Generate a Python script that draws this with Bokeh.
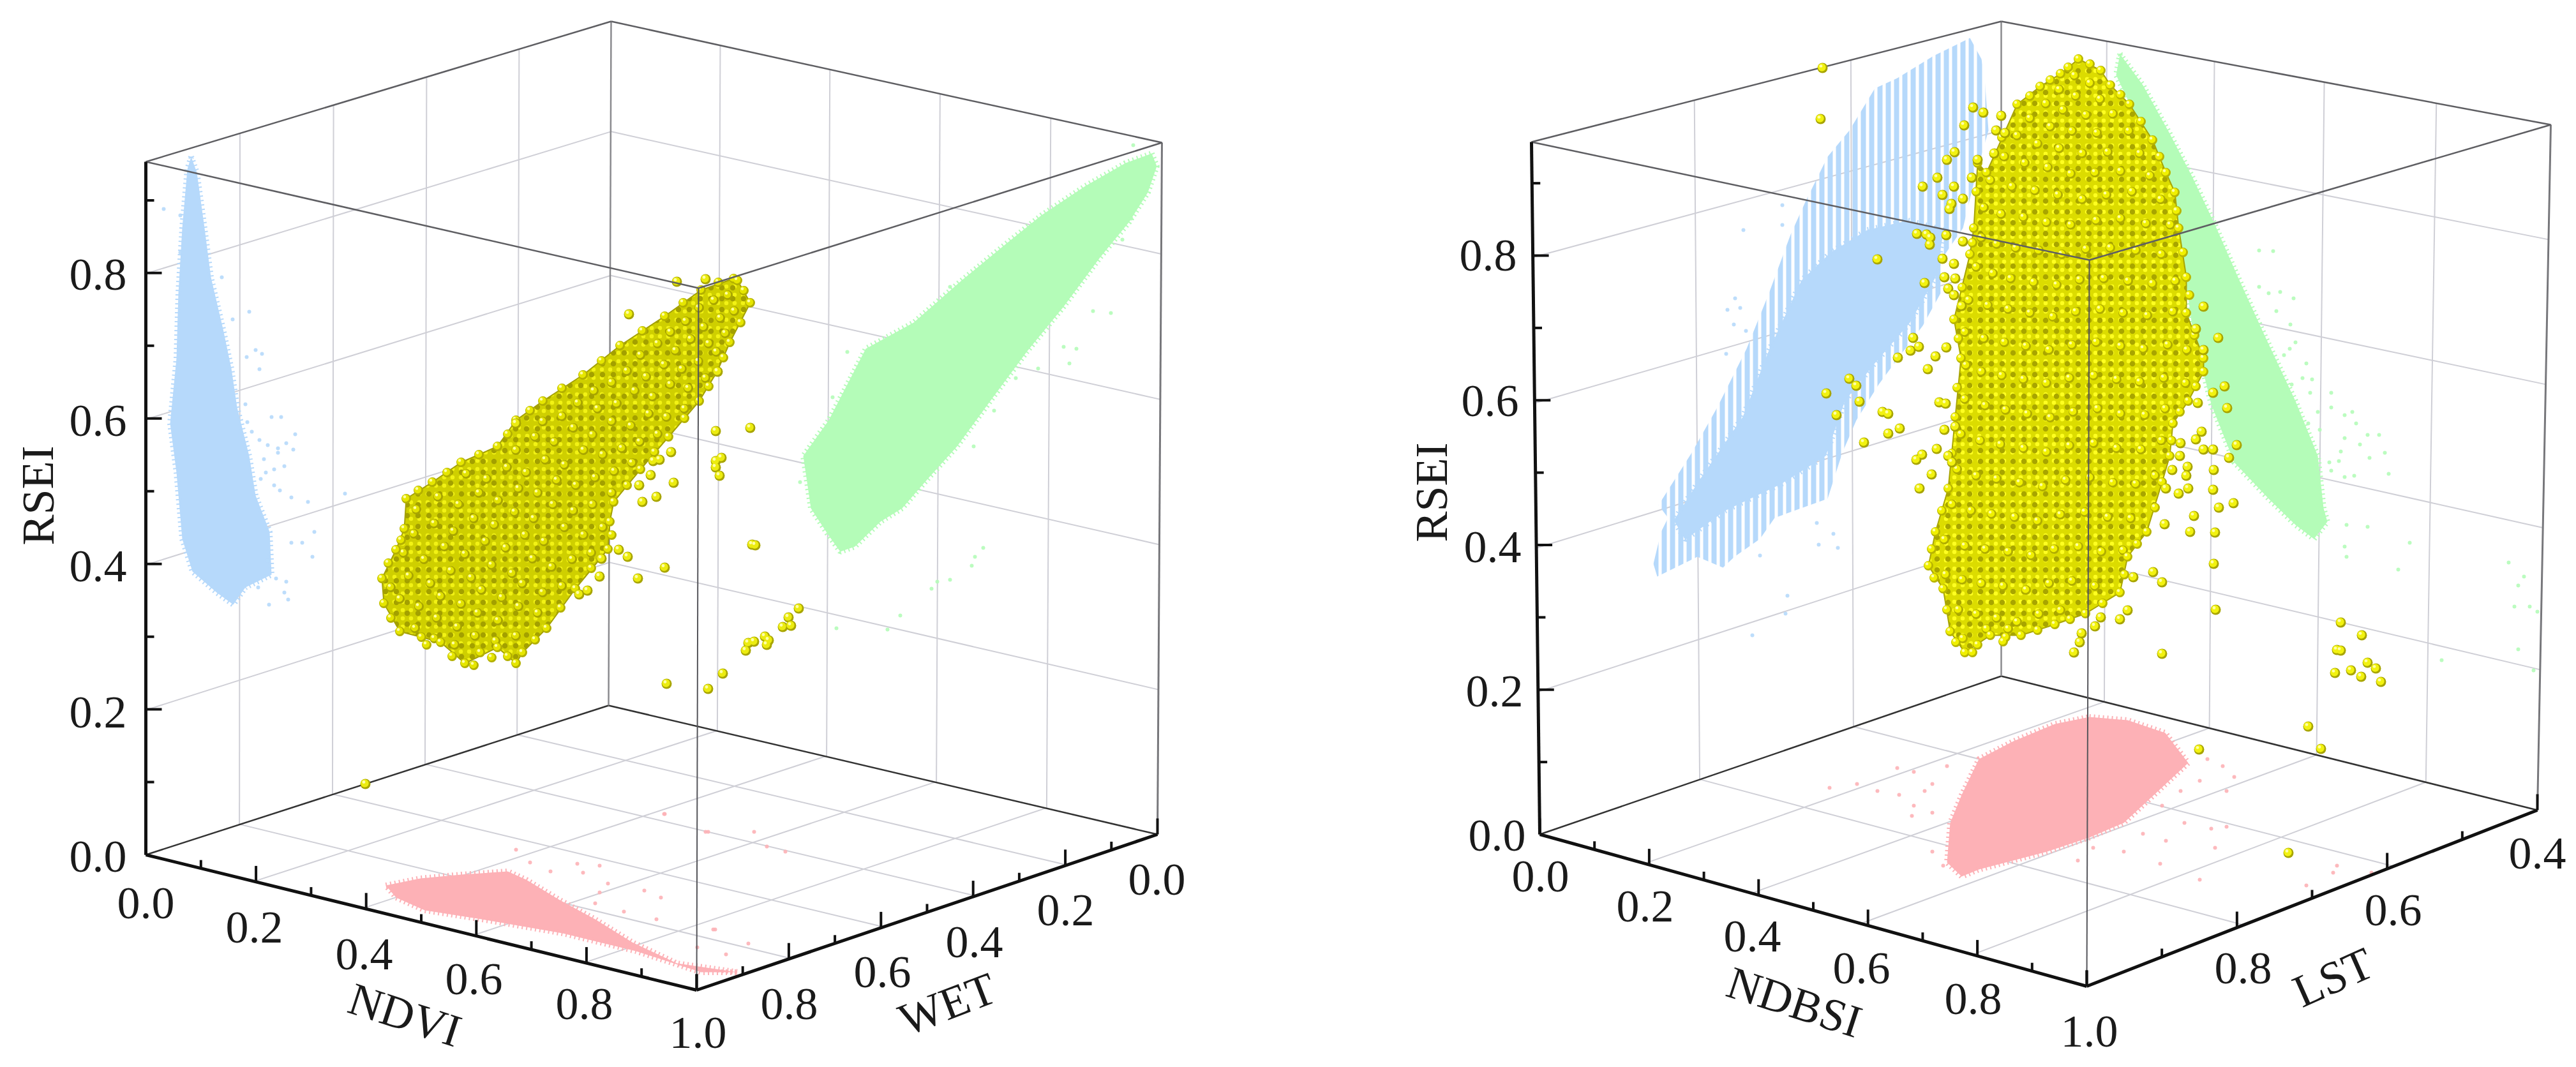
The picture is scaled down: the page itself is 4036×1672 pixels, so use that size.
import numpy as np
from bokeh.plotting import figure
from bokeh.models import Range1d
from bokeh.core.properties import value
from bokeh.embed import file_html
from bokeh.resources import INLINE

# ---- tick labels -------------------------------------------------------
RSEI_TICKS = [0.0, 0.2, 0.4, 0.6, 0.8]
RSEI_MINOR = [0.1, 0.3, 0.5, 0.7, 0.9]
UNIT_TICKS = [0.0, 0.2, 0.4, 0.6, 0.8, 1.0]
UNIT_MINOR = [0.1, 0.3, 0.5, 0.7, 0.9]
LST_TICKS = [0.4, 0.6, 0.8, 1.0]
LST_MINOR = [0.5, 0.7, 0.9]

# ---- projected clouds --------------------------------------------------
L_BLUE = [(299,245),(308,270),(320,357),(330,434),(349,515),(362,577),(371,638),(390,714),(400,776),(422,833),(425,900),(384,920),(365,947),(339,928),(301,895),(285,844),(276,740),(266,663),(276,561),(279,459),(285,357),(293,265)]
L_BLUE_PTS = [(256,327),(282,337),(282,395),(347,434),(390,488),(364,500),(400,548),(410,554),(386,559),(406,578),(384,633),(425,653),(440,653),(387,661),(462,680),(448,694),(419,697),(435,702),(394,676),(406,689),(459,704),(435,709),(413,719),(445,730),(429,735),(416,740),(408,750),(429,760),(438,768),(456,779),(482,786),(540,773),(456,850),(473,850),(492,833),(489,872),(448,911),(451,939),(421,947),(445,928),(419,878),(432,906),(404,920)]
L_GREEN = [(1804,240),(1812,260),(1798,301),(1769,347),(1723,403),(1666,480),(1608,551),(1551,628),(1499,699),(1453,750),(1413,796),(1379,817),(1339,856),(1316,864),(1296,836),(1270,796),(1258,714),(1298,658),(1327,602),(1356,546),(1431,505),(1505,440),(1574,383),(1631,337),(1700,291),(1763,255)]
L_GREEN_PTS = [(1775,227),(1758,375),(1772,342),(1712,487),(1740,490),(1666,543),(1686,546),(1675,569),(1626,577),(1591,592),(1557,643),(1525,699),(1476,719),(1488,449),(1327,551),(1304,622),(1253,755),(1310,984),(1390,986),(1410,964),(1459,922),(1488,908),(1468,911),(1522,886),(1527,872),(1540,858)]
L_PINK = [(604,1387),(658,1376),(722,1370),(795,1365),(824,1378),(875,1409),(932,1440),(990,1476),(1060,1509),(1156,1523),(1098,1523),(996,1490),(881,1462),(754,1440),(665,1426),(620,1406)]
L_PINK_PTS = [(808,1331),(830,1351),(904,1353),(939,1356),(913,1367),(862,1365),(952,1384),(939,1398),(932,1415),(977,1428),(1009,1395),(1035,1406),(1028,1440),(1117,1456),(1092,1484),(1137,1495),(1105,1303),(1041,1275),(1120,1456),(1172,1478),(1040,1275),(1201,1326),(1230,1334),(1109,1303),(1181,1303)]
L_YELLOW = [(1155,439),(1175,474),(1143,536),(1123,582),(1095,628),(1047,684),(1003,735),(961,786),(955,817),(952,860),(901,922),(856,984),(818,1022),(808,1039),(779,1014),(728,1039),(690,1006),(626,989),(601,945),(598,906),(620,861),(633,828),(636,781),(677,755),(722,724),(779,699),(808,658),(850,628),(913,587),(971,541),(1041,495),(1098,454),(1149,436)]
L_YELLOW_EDGE = [(1165,455),(1160,505),(1133,560),(1110,605),(1072,655),(1025,708),(982,760),(958,838),(926,890),(878,952),(838,1002),(795,1028),(752,1022),(708,1028),(660,998),(612,968),(608,882),(628,846),(655,768),(700,740),(750,712),(795,680),(830,643),(880,608),(942,565),(1006,518),(1070,474),(1125,442),(668,1010),(742,1042),(770,1030)]
L_YELLOW_IN = [(1140,462),(1118,470),(1095,482),(1150,487),(1128,498),(1102,512),(1074,503),(1050,520),(1136,522),(1110,538),(1082,531),(1058,549),(1030,538),(1003,556),(1122,551),(1094,566),(1068,578),(1040,571),(1012,590),(982,581),(958,599),(930,612),(1105,592),(1078,608),(1050,602),(1022,621),(994,612),(966,632),(936,640),(905,631),(880,652),(850,660),(1072,640),(1044,653),(1016,648),(988,667),(958,660),(928,681),(898,670),(868,692),(838,684),(808,705),(1030,680),(1002,692),(974,702),(944,712),(914,705),(884,728),(854,720),(824,740),(794,732),(762,750),(730,742),(990,725),(962,738),(932,748),(902,760),(872,752),(842,772),(812,765),(780,784),(750,772),(718,790),(686,778),(652,798),(958,772),(928,790),(898,800),(866,790),(836,812),(806,802),(774,822),(742,812),(710,832),(680,820),(648,836),(944,826),(914,838),(884,826),(852,848),(822,838),(792,858),(760,848),(728,868),(696,856),(664,876),(632,866),(926,866),(896,876),(864,888),(834,875),(802,898),(770,885),(738,905),(706,894),(674,914),(640,902),(612,920),(880,918),(850,928),(818,914),(786,936),(754,924),(722,946),(690,934),(656,950),(626,938),(842,960),(812,950),(780,972),(748,960),(716,982),(684,968),(650,984),(808,996),(776,1004),(744,996),(712,1010),(680,1000)]
L_YELLOW_PTS = [(1060,441),(1105,437),(985,492),(808,663),(1121,675),(1175,670),(1130,717),(1121,722),(1121,732),(1127,745),(1051,708),(1033,720),(1023,722),(1019,744),(1055,756),(1001,760),(1028,778),(1006,786),(1124,582),(983,872),(1041,889),(999,906),(969,861),(942,875),(939,903),(907,931),(920,925),(1178,853),(1183,854),(1044,1071),(1109,1079),(1132,1055),(1168,1019),(1172,1007),(1181,1005),(1198,997),(1201,1010),(1204,1003),(1226,982),(1239,980),(1235,967),(1251,953),(572,1228)]

R_BLUE = [(3086,59),(3104,92),(3109,122),(3115,204),(3092,286),(3075,357),(3040,408),(3040,459),(3012,510),(2977,556),(2943,602),(2908,658),(2886,709),(2863,781),(2780,811),(2757,844),(2717,872),(2699,889),(2659,872),(2596,903),(2590,883),(2602,833),(2613,811),(2598,791),(2650,709),(2690,638),(2736,546),(2771,459),(2805,367),(2828,316),(2863,245),(2897,204),(2937,138),(2972,122),(3029,87)]
R_BLUE_CORE = [(2989,345),(3045,360),(3032,434),(2992,505),(2935,571),(2890,628),(2860,714),(2790,758),(2702,800),(2640,845),(2622,815),(2660,755),(2730,653),(2770,551),(2822,439),(2868,395),(2925,360)]
R_BLUE_PTS = [(2731,360),(2718,467),(2706,485),(2726,482),(2716,508),(2735,518),(2704,554),(2792,321),(2792,352),(2800,933),(2797,961),(2745,995),(2846,819),(2872,836),(2849,853),(2879,858),(2757,870)]
R_GREEN = [(3321,84),(3357,133),(3399,209),(3434,276),(3470,352),(3506,434),(3548,526),(3596,628),(3631,714),(3640,796),(3646,817),(3625,844),(3596,822),(3554,781),(3500,724),(3464,633),(3434,510),(3422,423),(3399,291),(3351,194),(3315,117)]
R_GREEN_PTS = [(3539,392),(3561,393),(3539,449),(3554,459),(3572,457),(3593,467),(3566,487),(3588,508),(3596,536),(3587,546),(3578,556),(3613,569),(3607,592),(3622,594),(3590,602),(3619,615),(3652,615),(3631,645),(3652,638),(3673,650),(3685,645),(3616,663),(3634,673),(3691,663),(3673,686),(3709,681),(3727,681),(3697,696),(3667,707),(3736,709),(3712,717),(3649,724),(3664,722),(3652,737),(3742,742),(3673,747),(3688,745),(3676,822),(3709,825),(3673,856),(3676,872),(3775,850),(3757,892),(3930,881),(3954,903),(3945,917),(3939,950),(3963,950),(3975,958),(3945,1017),(3825,1034),(3969,1050)]
R_PINK = [(3273,1123),(3333,1128),(3392,1148),(3428,1195),(3381,1239),(3327,1289),(3273,1312),(3207,1334),(3142,1351),(3100,1362),(3073,1373),(3050,1351),(3055,1289),(3073,1245),(3100,1189),(3154,1161),(3219,1134)]
R_PINK_PTS = [(2866,1234),(2909,1228),(2998,1209),(2972,1203),(2941,1239),(2975,1245),(2998,1262),(2995,1278),(3027,1273),(3015,1239),(3027,1334),(3044,1356),(3027,1228),(3050,1200),(3458,1189),(3482,1200),(3500,1217),(3446,1223),(3416,1239),(3488,1239),(3387,1262),(3422,1289),(3464,1298),(3488,1295),(3357,1306),(3393,1317),(3470,1328),(3327,1334),(3384,1353),(3279,1328),(3255,1348),(3446,1378),(3655,1367),(3715,1367),(3613,1387),(3661,1356)]
R_YELLOW = [(3256,92),(3291,110),(3306,133),(3336,163),(3372,219),(3393,270),(3407,301),(3413,357),(3425,434),(3425,490),(3452,561),(3452,582),(3428,628),(3404,663),(3399,714),(3387,755),(3363,833),(3333,872),(3321,928),(3267,961),(3219,978),(3166,995),(3118,995),(3078,1022),(3055,989),(3044,922),(3021,886),(3032,833),(3052,765),(3063,653),(3072,561),(3061,500),(3086,398),(3092,357),(3098,255),(3112,270),(3160,163),(3196,135),(3228,115)]
R_YELLOW_EDGE = [(3274,100),(3322,148),(3354,190),(3383,245),(3410,330),(3420,395),(3430,462),(3438,525),(3440,605),(3415,645),(3402,690),(3376,795),(3348,852),(3328,900),(3294,945),(3243,970),(3192,987),(3142,998),(3098,1010),(3064,1006),(3050,955),(3030,905),(3026,860),(3042,800),(3058,710),(3066,607),(3068,530),(3074,450),(3090,380),(3096,300),(3136,215),(3180,150),(3212,125),(3240,105),(3090,1022),(3138,1005),(3075,1000)]
R_YELLOW_IN = [(3250,118),(3274,130),(3226,140),(3252,150),(3290,155),(3205,162),(3232,172),(3268,180),(3310,178),(3180,185),(3212,198),(3246,205),(3285,208),(3335,205),(3160,212),(3192,225),(3226,232),(3262,240),(3302,238),(3352,240),(3140,245),(3172,255),(3208,262),(3244,272),(3282,270),(3322,268),(3368,275),(3118,282),(3152,292),(3188,298),(3224,305),(3262,312),(3300,305),(3340,300),(3385,312),(3108,325),(3135,335),(3170,340),(3206,348),(3244,352),(3284,345),(3322,342),(3362,350),(3400,352),(3104,372),(3128,382),(3158,388),(3194,392),(3230,398),(3268,390),(3306,388),(3346,392),(3386,398),(3096,418),(3122,428),(3150,436),(3186,442),(3222,446),(3258,438),(3296,436),(3334,440),(3372,444),(3408,440),(3084,470),(3114,478),(3146,484),(3180,490),(3216,496),(3252,488),(3290,484),(3326,490),(3364,494),(3404,488),(3078,520),(3108,530),(3140,536),(3174,542),(3210,548),(3246,540),(3284,536),(3322,542),(3358,546),(3396,540),(3426,548),(3080,572),(3104,582),(3136,588),(3170,594),(3206,600),(3242,592),(3280,588),(3316,594),(3352,598),(3390,592),(3424,600),(3078,625),(3110,635),(3142,642),(3176,648),(3212,654),(3248,645),(3286,640),(3322,648),(3360,650),(3392,640),(3072,680),(3102,690),(3134,696),(3170,702),(3206,708),(3242,698),(3280,694),(3316,702),(3354,704),(3386,690),(3066,735),(3096,745),(3128,750),(3164,756),(3200,762),(3236,752),(3274,748),(3310,756),(3346,758),(3376,745),(3058,790),(3088,800),(3120,805),(3156,810),(3192,816),(3228,806),(3266,802),(3302,810),(3338,812),(3046,845),(3078,855),(3110,860),(3146,864),(3182,870),(3218,860),(3256,856),(3292,864),(3326,862),(3048,900),(3074,908),(3104,914),(3138,918),(3174,924),(3210,914),(3246,910),(3282,918),(3068,955),(3096,962),(3128,968),(3160,974),(3194,962),(3228,956),(3112,985),(3146,985)]
R_YELLOW_PTS = [(2855,106),(2852,186),(3091,168),(3107,176),(3135,181),(3077,196),(3127,204),(3141,208),(3062,238),(3050,250),(3124,240),(3098,250),(3035,278),(3012,292),(3061,292),(3043,305),(3057,319),(3054,327),(3075,311),(3089,278),(3003,366),(3018,367),(3024,372),(3023,383),(3049,368),(3075,378),(2941,406),(3043,405),(3061,413),(3015,443),(3046,434),(3063,436),(3052,452),(3061,462),(3073,479),(2997,529),(3006,543),(2993,549),(2973,560),(3049,544),(3032,558),(3020,578),(2897,593),(2908,604),(2861,616),(2913,629),(2877,650),(2949,645),(2958,648),(3038,630),(3048,632),(2976,671),(2958,679),(3046,673),(3063,668),(2920,693),(3034,703),(3011,712),(3002,720),(3052,714),(3058,724),(3026,743),(3007,765),(3452,480),(3440,515),(3475,529),(3452,548),(3485,605),(3467,615),(3489,639),(3443,631),(3449,676),(3440,688),(3504,697),(3416,694),(3452,704),(3467,704),(3492,717),(3415,714),(3403,736),(3427,731),(3468,736),(3425,745),(3393,765),(3428,765),(3467,767),(3413,773),(3499,788),(3476,795),(3437,808),(3391,821),(3431,833),(3470,834),(3468,883),(3373,896),(3342,904),(3387,912),(3471,955),(3333,956),(3321,970),(3291,967),(3282,981),(3261,992),(3258,1006),(3249,1022),(3387,1024),(3667,975),(3700,995),(3661,1018),(3667,1019),(3709,1038),(3722,1047),(3658,1054),(3683,1050),(3699,1060),(3730,1068),(3616,1138),(3636,1173),(3445,1174),(3585,1336)]

BLUE, GREEN, PINK = "#b6d9fb", "#b4fcb8", "#fdb1b6"
GRID, EDGE = "#cfcfd6", "#5e5e62"
FONT = value("Liberation Serif")

p = figure(width=4020, height=1664, x_range=Range1d(0, 4020), y_range=Range1d(1664, 0),
           output_backend="svg", toolbar_location=None, min_border=0, outline_line_color=None)
p.xaxis.visible = False
p.yaxis.visible = False
p.grid.visible = False


def homography(c):
    """Map (u,v) in the unit square onto the four screen corners (0,0),(1,0),(1,1),(0,1)."""
    src = [(0, 0), (1, 0), (1, 1), (0, 1)]
    A, b = [], []
    for (u, v), (x, y) in zip(src, c):
        A.append([u, v, 1, 0, 0, 0, -u * x, -v * x]); b.append(x)
        A.append([0, 0, 0, u, v, 1, -u * y, -v * y]); b.append(y)
    h = np.linalg.solve(np.array(A, float), np.array(b, float))

    def f(u, v):
        w = h[6] * u + h[7] * v + 1
        return (h[0] * u + h[1] * v + h[2]) / w, (h[3] * u + h[4] * v + h[5]) / w
    return f


def seg(a, b, color, w):
    p.line([a[0], b[0]], [a[1], b[1]], line_color=color, line_width=w)


def label(x, y, t, angle=0.0):
    p.text([x], [y], text=[t], angle=[np.deg2rad(angle)], text_font=FONT, text_font_size="72px",
           text_align="center", text_baseline="middle", text_color="#1a1a1a")


def cloud(outline, pts, color, dot=6):
    xs, ys = zip(*outline)
    p.patch(list(xs), list(ys), fill_color=color, line_color=None)
    p.line(list(xs) + [xs[0]], list(ys) + [ys[0]], line_color=color, line_width=9, line_dash="2 5")
    xs, ys = zip(*pts)
    p.scatter(list(xs), list(ys), size=dot, fill_color=color, line_color=None, fill_alpha=0.9)


def spheres(pts, size, dark, mid):
    x = np.array([q[0] for q in pts], float)
    y = np.array([q[1] for q in pts], float)
    p.scatter(x, y, size=size, fill_color=dark, line_color=None)
    p.scatter(x - 1, y - 1, size=size - 3.5, fill_color=mid, line_color=None)
    p.scatter(x - 2.5, y - 3, size=size * 0.3, fill_color="#ffffa8", line_color=None)


def blob(outline, base, bright, dark):
    xs, ys = zip(*outline)
    p.patch(list(xs), list(ys), fill_color=base, line_color=dark, line_width=2,
            hatch_pattern="dot", hatch_color=bright, hatch_scale=13, hatch_weight=9)
    p.patch(list(xs), list(ys), fill_color=None, line_color=None,
            hatch_pattern="dot", hatch_color=dark, hatch_scale=17, hatch_weight=3)


def cube(E, F, G, H, A, B, C, D, zmax, u_major, u_minor, v_major, v_minor, vmin,
         r_pink, r_blue, r_green):
    floor = homography([E, H, G, F])
    left = homography([E, F, B, A])
    right = homography([F, G, C, B])
    vspan = 1.0 - vmin
    for u in u_major[1:-1]:
        seg(floor(u, 0), floor(u, 1), GRID, 2)
        seg(right(u, 0), right(u, 1), GRID, 2)
    for v in v_major[1:-1]:
        t = (v - vmin) / vspan
        seg(floor(0, 1 - t), floor(1, 1 - t), GRID, 2)
        seg(left(1 - t, 0), left(1 - t, 1), GRID, 2)
    for z in RSEI_TICKS[1:]:
        t = z / zmax
        seg(left(0, t), left(1, t), GRID, 2)
        seg(right(0, t), right(1, t), GRID, 2)
    r_pink(); r_blue(); r_green()
    seg(E, F, "#333333", 2.5); seg(F, G, "#333333", 2.5)
    seg(B, F, "#8a8a8e", 2.5); seg(C, G, "#77777b", 3)
    seg(A, B, EDGE, 2.5); seg(B, C, EDGE, 2.5)


def front(E, G, H, A, C, D, zmax, u_major, u_minor, v_major, v_minor, vmin):
    seg(A, D, EDGE, 2.5); seg(D, C, EDGE, 2.5); seg(D, H, "#55555a", 2)
    seg(A, E, "#111111", 5); seg(E, H, "#111111", 5); seg(H, G, "#111111", 5)
    vspan = 1.0 - vmin
    axis_u = lambda t: (E[0] + (H[0] - E[0]) * t, E[1] + (H[1] - E[1]) * t)
    axis_v = lambda t: (G[0] + (H[0] - G[0]) * t, G[1] + (H[1] - G[1]) * t)
    axis_z = lambda t: (E[0] + (A[0] - E[0]) * t, E[1] + (A[1] - E[1]) * t)
    for u, l in [(q, 25) for q in u_major] + [(q, 13) for q in u_minor]:
        a = axis_u(u); seg(a, (a[0], a[1] - l), "#111111", 4)
    for v, l in [(q, 25) for q in v_major] + [(q, 13) for q in v_minor]:
        a = axis_v((v - vmin) / vspan); seg(a, (a[0], a[1] - l), "#111111", 4)
    for z, l in [(q, 25) for q in RSEI_TICKS[1:]] + [(q, 13) for q in RSEI_MINOR]:
        a = axis_z(z / zmax); seg(a, (a[0] + l, a[1]), "#111111", 4)


# ---------- left cube
LE, LF, LG, LH = (228, 1339), (953, 1105), (1813, 1307), (1091, 1551)
LA, LB, LC, LD = (228, 253), (957, 33), (1820, 223), (1094, 451)
cube(LE, LF, LG, LH, LA, LB, LC, LD, 0.953, UNIT_TICKS, UNIT_MINOR, UNIT_TICKS, UNIT_MINOR, 0.0,
     lambda: cloud(L_PINK, L_PINK_PTS, PINK),
     lambda: cloud(L_BLUE, L_BLUE_PTS, BLUE),
     lambda: cloud(L_GREEN, L_GREEN_PTS, GREEN))
blob(L_YELLOW, "#cfcf00", "#f2f214", "#a3a000")
spheres(L_YELLOW_IN, 15, "#a8a500", "#e2e200")
spheres(L_YELLOW, 15, "#b3b000", "#e6e600")
spheres(L_YELLOW_EDGE, 15, "#b3b000", "#e6e600")
spheres(L_YELLOW_PTS, 16, "#a8a500", "#ecec10")
front(LE, LG, LH, LA, LC, LD, 0.953, UNIT_TICKS, UNIT_MINOR, UNIT_TICKS, UNIT_MINOR, 0.0)

# ---------- right cube
RE, RF, RG, RH = (2412, 1307), (3135, 1059), (3975, 1269), (3269, 1545)
RA, RB, RC, RD = (2399, 222), (3135, 33), (3996, 195), (3273, 407)


def r_blue():
    xs, ys = zip(*R_BLUE)
    p.patch(list(xs), list(ys), fill_color=None, line_color=None,
            hatch_pattern="vertical_line", hatch_color=BLUE, hatch_scale=13, hatch_weight=8)
    cloud(R_BLUE_CORE, R_BLUE_PTS, BLUE)


cube(RE, RF, RG, RH, RA, RB, RC, RD, 0.957, UNIT_TICKS, UNIT_MINOR, LST_TICKS, LST_MINOR, 0.4,
     lambda: cloud(R_PINK, R_PINK_PTS, PINK),
     r_blue,
     lambda: cloud(R_GREEN, R_GREEN_PTS, GREEN))
blob(R_YELLOW, "#dcdc00", "#ffff20", "#a8a500")
spheres(R_YELLOW_IN, 15, "#b0ad00", "#f0f000")
spheres(R_YELLOW, 15, "#b8b500", "#f0f000")
spheres(R_YELLOW_EDGE, 15, "#b8b500", "#f0f000")
spheres(R_YELLOW_PTS, 16, "#a8a500", "#f2f210")
front(RE, RG, RH, RA, RC, RD, 0.957, UNIT_TICKS, UNIT_MINOR, LST_TICKS, LST_MINOR, 0.4)

# ---------- labels
for x, y, t in [(153, 430, "0.8"), (153, 659, "0.6"), (153, 887, "0.4"), (153, 1116, "0.2"), (153, 1342, "0.0"),
                (228, 1415, "0.0"), (398, 1453, "0.2"), (570, 1495, "0.4"), (742, 1534, "0.6"), (915, 1573, "0.8"),
                (1093, 1618, "1.0"), (1812, 1378, "0.0"), (1669, 1426, "0.2"), (1526, 1476, "0.4"),
                (1382, 1523, "0.6"), (1236, 1573, "0.8"),
                (2331, 400, "0.8"), (2334, 628, "0.6"), (2338, 857, "0.4"), (2341, 1083, "0.2"), (2345, 1309, "0.0"),
                (2413, 1373, "0.0"), (2577, 1420, "0.2"), (2745, 1467, "0.4"), (2916, 1517, "0.6"), (3091, 1565, "0.8"),
                (3273, 1616, "1.0"), (3514, 1517, "0.8"), (3749, 1426, "0.6"), (3975, 1337, "0.4")]:
    label(x, y, t)
label(59, 776, "RSEI", 90)
label(2242, 771, "RSEI", 90)
label(634, 1590, "NDVI", -18)
label(1484, 1573, "WET", 21)
label(2811, 1570, "NDBSI", -18)
label(3655, 1531, "LST", 24)

open("out.html", "w").write(file_html(p, INLINE))
